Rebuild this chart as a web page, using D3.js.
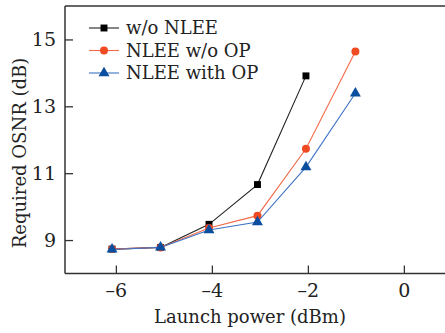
<!DOCTYPE html>
<html>
<head>
<meta charset="utf-8">
<script src="https://cdn.jsdelivr.net/npm/d3@7"></script>
<style>
  body { margin: 0; background: #fff; }
  svg { display: block; }
  text { font-family: "DejaVu Serif", "Liberation Serif", serif; fill: #222; }
</style>
</head>
<body>
<div id="chart"></div>
<script>
// launch power (dBm) for each measured point
var powerA = [-6.08, -5.07, -4.06, -3.05, -2.04];
var powerB = [-6.08, -5.07, -4.06, -3.05, -2.04, -1.01];
// required OSNR (dB)
var woNlee = [8.73, 8.78, 9.47, 10.66, 13.91];
var nleeWoOp = [8.73, 8.78, 9.36, 9.73, 11.73, 14.64];
var nleeWithOp = [8.72, 8.78, 9.30, 9.54, 11.18, 13.39];
var seriesNames = ["w/o NLEE", "NLEE w/o OP", "NLEE with OP"];
var xTicks = [-6, -4, -2, 0];
var yTicks = [9, 11, 13, 15];

var width = 445, height = 333;
var plotLeft = 65, plotTop = 6, plotBottom = 273.5;

var svg = d3.select("#chart").append("svg")
  .attr("width", width).attr("height", height);

var x = d3.scaleLinear().domain([-7.06, 1]).range([plotLeft, plotLeft + 8.06 * 48]);
var y = d3.scaleLinear().domain([8, 16]).range([plotBottom, plotTop]);

var series = [
  {name: seriesNames[0], xs: powerA, ys: woNlee, line: "#222", fill: "#000", shape: d3.symbolSquare, size: 48},
  {name: seriesNames[1], xs: powerB, ys: nleeWoOp, line: "#f26a48", fill: "#f04a22", shape: d3.symbolCircle, size: 50},
  {name: seriesNames[2], xs: powerB, ys: nleeWithOp, line: "#3f72c4", fill: "#0a4ea0", shape: d3.symbolTriangle, size: 52}
];

// frame
var axisColor = "#333";
svg.append("line").attr("x1", plotLeft).attr("x2", width).attr("y1", plotTop).attr("y2", plotTop)
  .attr("stroke", axisColor).attr("stroke-width", 1.5);

var xAxis = d3.axisBottom(x).tickValues(xTicks).tickSizeInner(-8).tickSizeOuter(0).tickPadding(10)
  .tickFormat(function(d) { return d < 0 ? "\u2013" + Math.abs(d) : d; });
var gx = svg.append("g").attr("transform", "translate(0," + plotBottom + ")").call(xAxis);

var yAxis = d3.axisLeft(y).tickValues(yTicks).tickSizeInner(-8).tickSizeOuter(0).tickPadding(9);
var gy = svg.append("g").attr("transform", "translate(" + plotLeft + ",0)").call(yAxis);

[gx, gy].forEach(function(g) {
  g.select(".domain").attr("stroke", axisColor).attr("stroke-width", 1.5);
  g.selectAll(".tick line").attr("stroke", axisColor).attr("stroke-width", 1.3);
  g.selectAll("text").attr("font-size", 19).attr("font-family", "DejaVu Serif").attr("fill", "#222");
});
gx.select(".domain").attr("d", "M" + plotLeft + ",0H" + width);
gy.select(".domain").attr("d", "M0," + plotTop + "V" + plotBottom);

// lines and markers
var line = d3.line().x(function(d) { return x(d[0]); }).y(function(d) { return y(d[1]); });
series.forEach(function(s) {
  var pts = s.xs.map(function(v, i) { return [v, s.ys[i]]; });
  svg.append("path").datum(pts).attr("d", line)
    .attr("fill", "none").attr("stroke", s.line).attr("stroke-width", 1.1);
  svg.selectAll(null).data(pts).enter().append("path")
    .attr("transform", function(d) { return "translate(" + x(d[0]) + "," + y(d[1]) + ")"; })
    .attr("d", d3.symbol().type(s.shape).size(s.size))
    .attr("fill", s.fill);
});

// legend
var leg = svg.append("g").attr("transform", "translate(89,28)");
series.forEach(function(s, i) {
  var g = leg.append("g").attr("transform", "translate(0," + i * 22.5 + ")");
  g.append("line").attr("x1", 0).attr("x2", 30).attr("stroke", s.line).attr("stroke-width", 1.1);
  g.append("path").attr("transform", "translate(15,0)")
    .attr("d", d3.symbol().type(s.shape).size(s.size)).attr("fill", s.fill);
  g.append("text").attr("x", 37).attr("dy", "0.35em").attr("font-size", 18).text(s.name);
});

// axis titles
svg.append("text").attr("x", 250).attr("y", 323).attr("text-anchor", "middle")
  .attr("font-size", 18).text("Launch power (dBm)");
svg.append("text").attr("transform", "translate(26,153) rotate(-90)").attr("text-anchor", "middle")
  .attr("font-size", 18).text("Required OSNR (dB)");
</script>
</body>
</html>
